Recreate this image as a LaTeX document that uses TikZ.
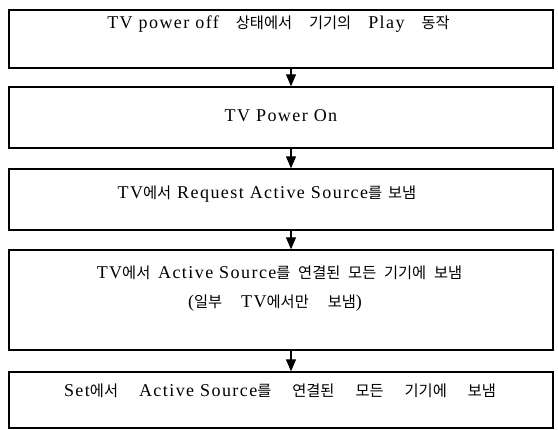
\documentclass[tikz,border=0pt]{standalone}
\usepackage{fontspec}
\setmainfont[LetterSpace=8]{Liberation Serif}
\newfontfamily\kr[Scale=0.85]{Noto Sans CJK KR}
\usetikzlibrary{arrows.meta}
\newcommand\gp{\hspace{\extragap}}
\newlength\extragap
\begin{document}
\begin{tikzpicture}[x=1pt,y=1pt,
  box/.style={draw, line width=1.4pt, minimum width=544pt, inner sep=0pt},
  txt/.style={inner sep=0pt, font=\fontsize{18}{21}\selectfont},
  arr/.style={line width=1.2pt, -{Triangle[width=10pt,length=12pt]}}]
\useasboundingbox (0,0) rectangle (558,-430);
\node[box, minimum height=58pt] (b1) at (281,-39) {};
\node[box, minimum height=61pt] (b2) at (281,-117.5) {};
\node[box, minimum height=61pt] (b3) at (281,-199.5) {};
\node[box, minimum height=100pt] (b4) at (281,-300) {};
\node[box, minimum height=56pt] (b5) at (281,-400) {};
\node[txt] (t1) at (278.5,-24) {\setlength\extragap{11pt}TV power off \gp{\kr 상태에서} \gp{\kr 기기의} \gp Play \gp{\kr 동작}};
\node[txt] (t2) at (281,-116) {TV Power On};
\node[txt] (t3) at (267,-194) {\setlength\extragap{0pt}TV{\kr 에서} \gp Request Active Source{\kr 를} \gp{\kr 보냄}};
\node[txt] (t4) at (279.5,-273) {\setlength\extragap{1.8pt}TV{\kr 에서} \gp Active Source{\kr 를} \gp{\kr 연결된} \gp{\kr 모든} \gp{\kr 기기에} \gp{\kr 보냄}};
\node[txt] (t4b) at (275,-303) {\setlength\extragap{13pt}({\kr 일부} \gp TV{\kr 에서만} \gp{\kr 보냄})};
\node[txt] (t5) at (280,-391) {\setlength\extragap{15pt}Set{\kr 에서} \gp Active Source{\kr 를} \gp{\kr 연결된} \gp{\kr 모든} \gp{\kr 기기에} \gp{\kr 보냄}};
\draw[arr] ([xshift=10pt]b1.south) -- ([xshift=10pt]b2.north);
\draw[arr] ([xshift=10pt]b2.south) -- ([xshift=10pt]b3.north);
\draw[arr] ([xshift=10pt]b3.south) -- ([xshift=10pt]b4.north);
\draw[arr] ([xshift=10pt]b4.south) -- ([xshift=10pt]b5.north);
\end{tikzpicture}
\end{document}
